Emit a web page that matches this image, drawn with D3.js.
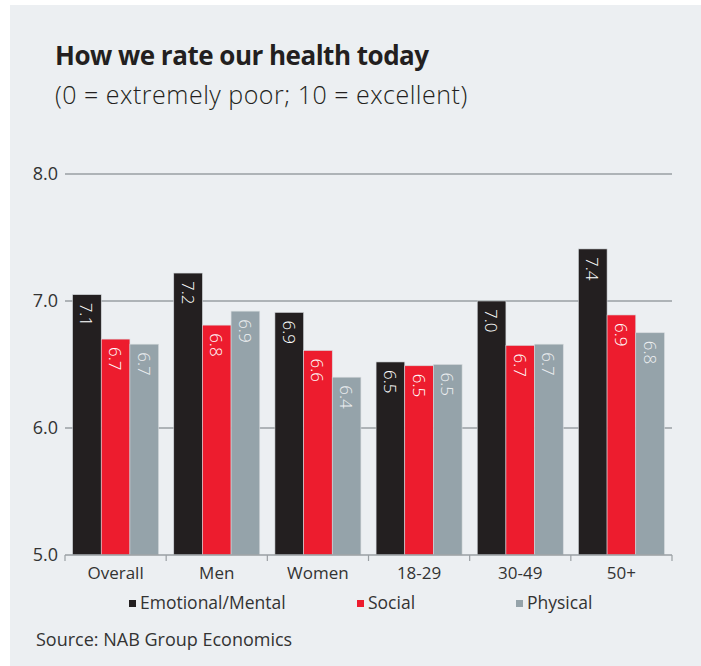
<!DOCTYPE html>
<html>
<head>
<meta charset="utf-8">
<script src="https://cdn.jsdelivr.net/npm/d3@7"></script>
<style>
  body { margin: 0; background: #fff; }
  svg { display: block; font-family: "Open Sans", "Noto Sans", sans-serif; }
</style>
</head>
<body>
<svg id="chart" width="701" height="666"></svg>
<script>
const categories = ["Overall", "Men", "Women", "18-29", "30-49", "50+"];
const seriesNames = ["Emotional/Mental", "Social", "Physical"];
const emotional = [7.05, 7.22, 6.91, 6.52, 7.0, 7.41];
const social = [6.7, 6.81, 6.61, 6.49, 6.65, 6.89];
const physical = [6.66, 6.92, 6.4, 6.5, 6.66, 6.75];
const labelsEmotional = ["7.1", "7.2", "6.9", "6.5", "7.0", "7.4"];
const labelsSocial = ["6.7", "6.8", "6.6", "6.5", "6.7", "6.9"];
const labelsPhysical = ["6.7", "6.9", "6.4", "6.5", "6.7", "6.8"];
const yTicks = [5, 6, 7, 8];

const colors = ["#231f20", "#ed1c2e", "#95a3aa"];

const svg = d3.select("#chart");
svg.selectAll("*").remove();

// panel background
svg.append("rect")
  .attr("x", 10).attr("y", 5)
  .attr("width", 691).attr("height", 661)
  .attr("fill", "#eceff2");

svg.append("text")
  .attr("x", 55).attr("y", 65)
  .attr("font-size", 26).attr("font-weight", 700)
  .attr("fill", "#231f20")
  .attr("letter-spacing", -0.5)
  .text("How we rate our health today");

svg.append("text")
  .attr("x", 55).attr("y", 104)
  .attr("font-size", 25).attr("font-weight", 300)
  .attr("fill", "#231f20")
  .attr("letter-spacing", 0.5)
  .text("(0 = extremely poor; 10 = excellent)");

const plot = { left: 65, right: 672, top: 174, bottom: 555 };

const x = d3.scaleBand().domain(categories).range([plot.left, plot.right]).paddingInner(0.15).paddingOuter(0.075);
const xs = d3.scaleBand().domain(seriesNames).range([0, x.bandwidth()]);
const y = d3.scaleLinear().domain([5, 8]).range([plot.bottom, plot.top]);

// gridlines
svg.append("g")
  .selectAll("line")
  .data(yTicks.filter(t => t > 5))
  .join("line")
  .attr("x1", plot.left).attr("x2", plot.right)
  .attr("y1", d => y(d)).attr("y2", d => y(d))
  .attr("stroke", "#9a9fa3").attr("stroke-width", 1.5);

// y tick labels
svg.append("g")
  .selectAll("text")
  .data(yTicks)
  .join("text")
  .attr("x", 58).attr("y", d => y(d) + 6)
  .attr("text-anchor", "end")
  .attr("font-size", 18).attr("fill", "#333")
  .text(d => d.toFixed(1));

const rows = categories.map((c, i) => ({
  cat: c,
  vals: [emotional[i], social[i], physical[i]],
  labels: [labelsEmotional[i], labelsSocial[i], labelsPhysical[i]]
}));

const groups = svg.append("g")
  .selectAll("g")
  .data(rows)
  .join("g")
  .attr("transform", d => `translate(${x(d.cat)},0)`);

const bars = groups.selectAll("g")
  .data(d => d.vals.map((v, j) => ({ v, j, label: d.labels[j] })))
  .join("g");

bars.append("rect")
  .attr("x", d => xs(seriesNames[d.j]))
  .attr("y", d => y(d.v))
  .attr("width", xs.bandwidth())
  .attr("height", d => plot.bottom - y(d.v))
  .attr("fill", d => colors[d.j])
  .attr("stroke", "#d5d9dc").attr("stroke-width", 0.6);

bars.append("text")
  .attr("transform", d => `translate(${xs(seriesNames[d.j]) + xs.bandwidth() / 2 - 6.5},${y(d.v) + 8}) rotate(90)`)
  .attr("font-size", 17).attr("font-weight", 300)
  .attr("fill", d => d.j === 2 ? "#eef0f2" : "#fff")
  .text(d => d.label);

// x axis
const xAxis = svg.append("g");
xAxis.append("line")
  .attr("x1", plot.left).attr("x2", plot.right)
  .attr("y1", plot.bottom).attr("y2", plot.bottom)
  .attr("stroke", "#9a9fa3").attr("stroke-width", 1.5);
const tickX = categories.map(c => x(c) - x.step() * x.paddingInner() / 2).concat([plot.right]);
xAxis.selectAll("line.tick")
  .data(tickX)
  .join("line")
  .attr("class", "tick")
  .attr("x1", d => d).attr("x2", d => d)
  .attr("y1", plot.bottom).attr("y2", plot.bottom + 6)
  .attr("stroke", "#9a9fa3").attr("stroke-width", 1.2);
xAxis.selectAll("text")
  .data(categories)
  .join("text")
  .attr("x", d => x(d) + x.bandwidth() / 2)
  .attr("y", plot.bottom + 24)
  .attr("text-anchor", "middle")
  .attr("font-size", 17).attr("fill", "#333")
  .text(d => d);

// legend
const legendX = [129, 357, 516];
const legend = svg.append("g")
  .selectAll("g")
  .data(seriesNames)
  .join("g")
  .attr("transform", (d, i) => `translate(${legendX[i]},609)`);
legend.append("rect")
  .attr("x", 0).attr("y", -9)
  .attr("width", 7).attr("height", 7)
  .attr("fill", (d, i) => colors[i]);
legend.append("text")
  .attr("x", 11).attr("y", 0)
  .attr("font-size", 17.5).attr("fill", "#333")
  .text(d => d);

svg.append("text")
  .attr("x", 36).attr("y", 646)
  .attr("font-size", 18).attr("fill", "#333")
  .text("Source: NAB Group Economics");
</script>
</body>
</html>
